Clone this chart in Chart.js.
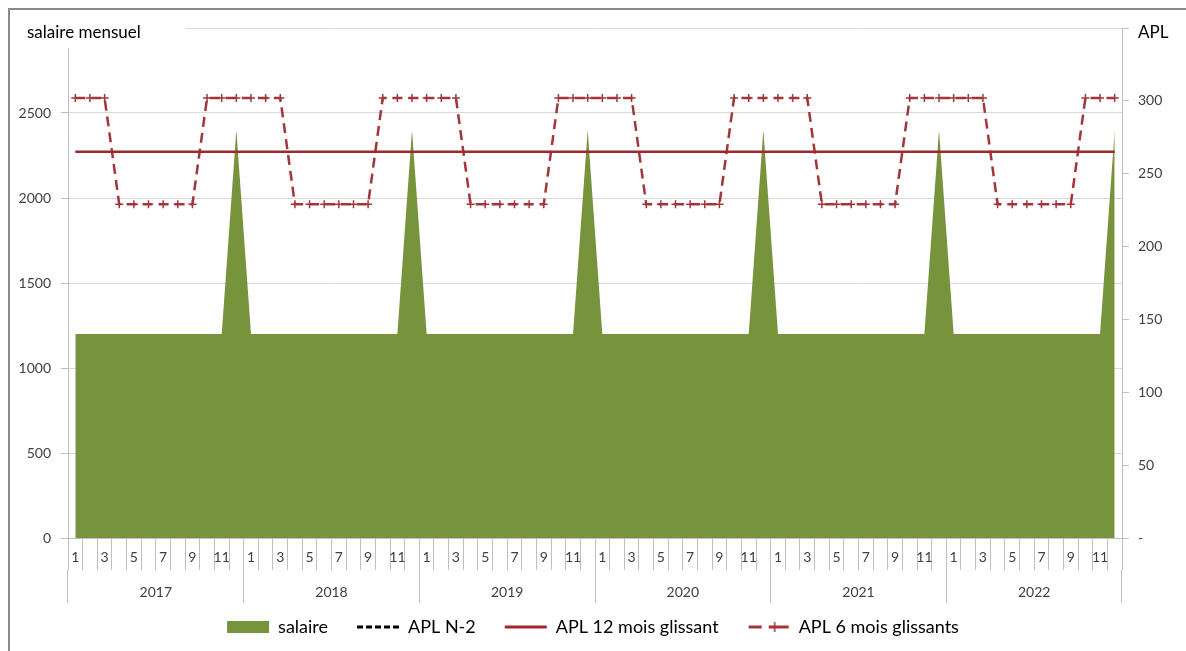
<!DOCTYPE html>
<html>
<head>
<meta charset="utf-8">
<script src="https://cdn.jsdelivr.net/npm/chart.js@4/dist/chart.umd.min.js"></script>
<style>
  html, body { margin: 0; padding: 0; background: #fff; overflow: hidden; }
  #frame {
    position: absolute; left: 8px; top: 8px; width: 1200px; height: 700px;
    border-top: 2px solid #8a8a8a; border-left: 2px solid #8a8a8a;
  }
  #wrap { position: absolute; left: 0; top: 0; width: 1186px; height: 651px; }
</style>
</head>
<body>
<div id="frame"></div>
<div id="wrap"><canvas id="chart" width="1186" height="651"></canvas></div>
<script>
// month labels, 6 years x 12 months
const months = [
    '1','2','3','4','5','6','7','8','9','10','11','12',
    '1','2','3','4','5','6','7','8','9','10','11','12',
    '1','2','3','4','5','6','7','8','9','10','11','12',
    '1','2','3','4','5','6','7','8','9','10','11','12',
    '1','2','3','4','5','6','7','8','9','10','11','12',
    '1','2','3','4','5','6','7','8','9','10','11','12'
];
const years = ['2017', '2018', '2019', '2020', '2021', '2022'];

// salaire mensuel (left axis)
const salaire = [
    1200,1200,1200,1200,1200,1200,1200,1200,1200,1200,1200,2400,
    1200,1200,1200,1200,1200,1200,1200,1200,1200,1200,1200,2400,
    1200,1200,1200,1200,1200,1200,1200,1200,1200,1200,1200,2400,
    1200,1200,1200,1200,1200,1200,1200,1200,1200,1200,1200,2400,
    1200,1200,1200,1200,1200,1200,1200,1200,1200,1200,1200,2400,
    1200,1200,1200,1200,1200,1200,1200,1200,1200,1200,1200,2400
];

// APL (right axis)
const aplN2 = [];
const apl12 = [
    265,265,265,265,265,265,265,265,265,265,265,265,
    265,265,265,265,265,265,265,265,265,265,265,265,
    265,265,265,265,265,265,265,265,265,265,265,265,
    265,265,265,265,265,265,265,265,265,265,265,265,
    265,265,265,265,265,265,265,265,265,265,265,265,
    265,265,265,265,265,265,265,265,265,265,265,265
];
const apl6 = [
    302,302,302,229,229,229,229,229,229,302,302,302,
    302,302,302,229,229,229,229,229,229,302,302,302,
    302,302,302,229,229,229,229,229,229,302,302,302,
    302,302,302,229,229,229,229,229,229,302,302,302,
    302,302,302,229,229,229,229,229,229,302,302,302,
    302,302,302,229,229,229,229,229,229,302,302,302
];

const FONT = 'Lato, "Open Sans", sans-serif';
const TXT = '#404040';
const AXIS = '#bfbfbf';
const GRID = '#d9d9d9';
const GREEN = '#77933c';
const RED = '#a0282b';
const RED2 = '#a3353a';

// legend symbol for the dashed series with its "+" marker
function dashCrossSymbol() {
    const c = document.createElement('canvas');
    c.width = 42; c.height = 14;
    const g = c.getContext('2d');
    g.strokeStyle = RED2;
    g.lineWidth = 3;
    g.beginPath();
    g.moveTo(1, 7); g.lineTo(14, 7);
    g.moveTo(21, 7); g.lineTo(41, 7);
    g.stroke();
    g.lineWidth = 1.5;
    g.beginPath();
    g.moveTo(27, 2); g.lineTo(27, 12);
    g.stroke();
    return c;
}

// axis titles drawn horizontally on top of the plot, like Excel does
const axisTitles = {
    id: 'axisTitles',
    afterLayout(chart) {
        // pull the legend row up a bit so it keeps wide gaps between items
        chart.legend.top -= 14;
        chart.legend.bottom -= 14;
    },
    afterDraw(chart) {
        const ctx = chart.ctx;
        ctx.save();
        ctx.fillStyle = '#fff';
        ctx.fillRect(18, 14, 168, 34);
        ctx.fillStyle = '#000';
        ctx.font = '17px ' + FONT;
        ctx.textBaseline = 'middle';
        ctx.textAlign = 'left';
        ctx.fillText('salaire mensuel', 27, 33);
        ctx.fillText('APL', 1138, 33);
        ctx.restore();
    }
};

const legendSymbols = ['rect', 'line', 'line', dashCrossSymbol()];

new Chart(document.getElementById('chart'), {
    type: 'line',
    data: {
        labels: months,
        datasets: [
            {
                label: 'salaire',
                data: salaire,
                yAxisID: 'y',
                backgroundColor: GREEN,
                borderColor: GREEN,
                borderWidth: 0,
                pointRadius: 0,
                fill: 'origin',
                tension: 0,
                order: 10
            },
            {
                label: 'APL N-2',
                data: aplN2,
                yAxisID: 'y1',
                borderColor: '#000',
                backgroundColor: '#000',
                borderWidth: 3,
                borderDash: [6, 3],
                pointRadius: 0,
                fill: false
            },
            {
                label: 'APL 12 mois glissant',
                data: apl12,
                yAxisID: 'y1',
                borderColor: RED,
                backgroundColor: RED,
                borderWidth: 2.5,
                pointRadius: 0,
                fill: false,
                tension: 0
            },
            {
                label: 'APL 6 mois glissants',
                data: apl6,
                yAxisID: 'y1',
                borderColor: RED2,
                backgroundColor: RED2,
                borderWidth: 2.5,
                borderDash: [10, 6],
                pointStyle: 'cross',
                pointRadius: 4,
                pointBorderWidth: 1.5,
                pointBorderColor: RED2,
                fill: false,
                tension: 0
            }
        ]
    },
    options: {
        responsive: false,
        animation: false,
        layout: { padding: { top: 28, left: 0, right: 0, bottom: 0 } },
        plugins: {
            tooltip: { enabled: false },
            legend: {
                position: 'bottom',
                maxHeight: 48,
                labels: {
                    usePointStyle: true,
                    pointStyleWidth: 42,
                    boxWidth: 42,
                    boxHeight: 12,
                    padding: 29,
                    color: '#000',
                    font: { family: FONT, size: 18 },
                    generateLabels(chart) {
                        return chart.data.datasets.map((ds, i) => ({
                            text: ds.label,
                            datasetIndex: i,
                            hidden: false,
                            fillStyle: ds.backgroundColor,
                            strokeStyle: ds.borderColor,
                            lineWidth: i === 0 ? 0 : 3,
                            lineDash: ds.borderDash || [],
                            pointStyle: legendSymbols[i],
                            fontColor: '#000'
                        }));
                    }
                }
            }
        },
        scales: {
            x: {
                type: 'category',
                position: 'bottom',
                offset: true,
                grid: {
                    offset: true,
                    drawOnChartArea: false,
                    color: AXIS,
                    tickLength: 32
                },
                border: { color: AXIS, width: 1 },
                ticks: {
                    autoSkip: false,
                    maxRotation: 0,
                    padding: -21,
                    color: TXT,
                    font: { family: FONT, size: 14 },
                    callback(v, i) { return i % 2 === 0 ? months[i] : ''; }
                },
                afterFit(s) { s.height = 32; }
            },
            x2: {
                type: 'category',
                position: 'bottom',
                labels: years,
                offset: true,
                grid: {
                    offset: true,
                    drawOnChartArea: false,
                    color: AXIS,
                    tickLength: 33
                },
                border: { display: false },
                ticks: {
                    padding: -19,
                    color: TXT,
                    font: { family: FONT, size: 14 }
                },
                afterFit(s) { s.height = 33; }
            },
            y: {
                position: 'left',
                min: 0,
                max: 3000,
                grid: { color: GRID, tickLength: 7, tickColor: AXIS },
                border: { color: AXIS },
                ticks: {
                    stepSize: 500,
                    padding: 10,
                    color: TXT,
                    font: { family: FONT, size: 14 },
                    callback(v) { return v === 3000 ? '' : v; }
                },
                afterFit(s) { s.width = 68; }
            },
            y1: {
                position: 'right',
                min: 0,
                max: 350,
                grid: { drawOnChartArea: false, color: AXIS, tickLength: 7 },
                border: { color: AXIS },
                ticks: {
                    stepSize: 50,
                    padding: 9,
                    color: TXT,
                    font: { family: FONT, size: 14 },
                    callback(v) { return v === 0 ? '-' : (v === 350 ? '' : v); }
                },
                afterFit(s) { s.width = 64; }
            }
        }
    },
    plugins: [axisTitles]
});
</script>
</body>
</html>
